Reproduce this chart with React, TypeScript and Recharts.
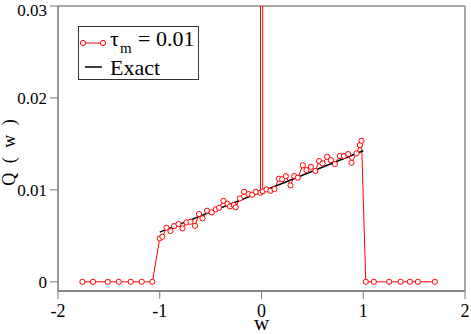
import { LineChart, Line, XAxis, YAxis, ReferenceLine } from "recharts";

// sampled Q(w), tau_m = 0.01
const sampleW = [
  -1.76, -1.656, -1.511, -1.403, -1.285, -1.177, -1.072,
  -1.0, -0.974, -0.934, -0.895, -0.859, -0.816, -0.777, -0.737, -0.698, -0.653,
  -0.614, -0.58, -0.535, -0.489, -0.449, -0.417, -0.374, -0.334, -0.31, -0.272,
  -0.253, -0.213, -0.171, -0.128, -0.092, -0.056, -0.01,
  0.0,
  0.012, 0.049, 0.088, 0.128, 0.17, 0.203, 0.239, 0.285, 0.321, 0.357, 0.406,
  0.442, 0.485, 0.529, 0.566, 0.6, 0.645, 0.681, 0.721, 0.77, 0.809, 0.852,
  0.885, 0.934, 0.967, 0.983,
  1.025, 1.104, 1.255, 1.367, 1.458, 1.537, 1.704,
];
const sampleQ = [
  0, 0, 0, 0, 0, 0, 0,
  0.00472, 0.0049, 0.00588, 0.00552, 0.00606, 0.00628, 0.00581, 0.00646, 0.00653, 0.00609,
  0.00737, 0.0069, 0.00773, 0.00755, 0.00788, 0.00805, 0.00881, 0.00849, 0.0082, 0.00835,
  0.0081, 0.00907, 0.00979, 0.00954, 0.00947, 0.00979, 0.00968,
  20.0,
  0.00984, 0.01005, 0.0099, 0.01009, 0.01121, 0.01114, 0.0115, 0.01049, 0.0115, 0.01132, 0.01267,
  0.01215, 0.01251, 0.01205, 0.01313, 0.01288, 0.0136, 0.01324, 0.01281, 0.01368, 0.01368, 0.0139,
  0.01295, 0.01397, 0.01488, 0.01534,
  0, 0, 0, 0, 0, 0, 0,
];

const exactW = [-1, 0, 1];
const exactQ = [0.0054, 0.0098, 0.01425];

const xTicks = [-2, -1, 0, 1, 2];
const yTicks = [0, 0.01, 0.02, 0.03];

const sampleData = sampleW.map((w, i) => ({ w, q: sampleQ[i] }));
const exactData = exactW.map((w, i) => ({ w, q: exactQ[i] }));

const FONT = "Liberation Serif, serif";
const RED = "#ff0000";

const YLabel = ({ viewBox }: any) => {
  const x = viewBox.x + 7;
  const y = viewBox.y + viewBox.height / 2 + 4;
  return (
    <text
      x={x}
      y={y}
      transform={`rotate(-90, ${x}, ${y})`}
      textAnchor="middle"
      fill="#000"
      style={{ fontFamily: FONT, fontSize: 18, wordSpacing: 5 }}
    >
      Q ( w )
    </text>
  );
};

const XLabel = ({ viewBox }: any) => (
  <text
    x={viewBox.x + viewBox.width / 2}
    y={viewBox.y + 39}
    textAnchor="middle"
    fill="#000"
    style={{ fontFamily: FONT, fontSize: 21 }}
  >
    w
  </text>
);

function LegendBox() {
  return (
    <svg
      width={121}
      height={54}
      style={{ position: "absolute", left: 78, top: 26, overflow: "visible", fontFamily: FONT }}
    >
      <rect x={0.5} y={0.5} width={120} height={53} fill="#fff" stroke="#333" strokeWidth={1} />
      <line x1={5} y1={17} x2={25} y2={17} stroke={RED} strokeWidth={1} />
      <circle cx={5} cy={17} r={2.6} fill="#fff" stroke={RED} strokeWidth={1} />
      <circle cx={25} cy={17} r={2.6} fill="#fff" stroke={RED} strokeWidth={1} />
      <text y={20} fill="#000" style={{ fontFamily: FONT, fontSize: 22 }}>
        <tspan x={32}>τ</tspan>
        <tspan x={42} dy={7} style={{ fontSize: 15 }}>m</tspan>
        <tspan x={60} dy={-7}>= 0.01</tspan>
      </text>
      <line x1={7} y1={41} x2={24} y2={41} stroke="#000" strokeWidth={1.5} />
      <text x={32} y={49} fill="#000" style={{ fontFamily: FONT, fontSize: 22 }}>
        Exact
      </text>
    </svg>
  );
}

export default function App() {
  return (
    <div style={{ position: "absolute", left: 0, top: 0, width: 471, height: 334, background: "#fff", fontFamily: FONT }}>
      <LineChart width={471} height={334} margin={{ top: 6, right: 6, left: 8, bottom: 0 }} style={{ fontFamily: FONT }}>
        <XAxis
          type="number"
          dataKey="w"
          domain={[-2, 2]}
          ticks={xTicks}
          allowDataOverflow
          height={43}
          tickSize={8}
          tickMargin={5}
          axisLine={{ stroke: "#888", strokeWidth: 2 }}
          tickLine={{ stroke: "#777" }}
          tick={{ fontSize: 18, fill: "#000", style: { fontFamily: FONT } }}
          label={<XLabel />}
        />
        <YAxis
          type="number"
          domain={[-0.001, 0.03]}
          ticks={yTicks}
          allowDataOverflow
          width={50}
          tickSize={8}
          tickMargin={3}
          axisLine={{ stroke: "#333" }}
          tickLine={{ stroke: "#777" }}
          tick={{ fontSize: 17, fill: "#000", style: { fontFamily: FONT } }}
          tickFormatter={(v: number) => (v === 0 ? "0" : String(v))}
          label={<YLabel />}
        />
        <ReferenceLine y={0.03} stroke="#888" strokeWidth={1.5} ifOverflow="visible" />
        <ReferenceLine x={2} stroke="#888" strokeWidth={1.5} ifOverflow="visible" />
        <Line
          data={sampleData}
          dataKey="q"
          type="linear"
          stroke={RED}
          strokeWidth={1}
          dot={{ r: 2.6, fill: "#fff", stroke: RED, strokeWidth: 1 }}
          activeDot={false}
          isAnimationActive={false}
        />
        <Line
          data={exactData}
          dataKey="q"
          type="linear"
          stroke="#000"
          strokeWidth={1.5}
          dot={false}
          activeDot={false}
          isAnimationActive={false}
        />
      </LineChart>
      <LegendBox />
    </div>
  );
}
